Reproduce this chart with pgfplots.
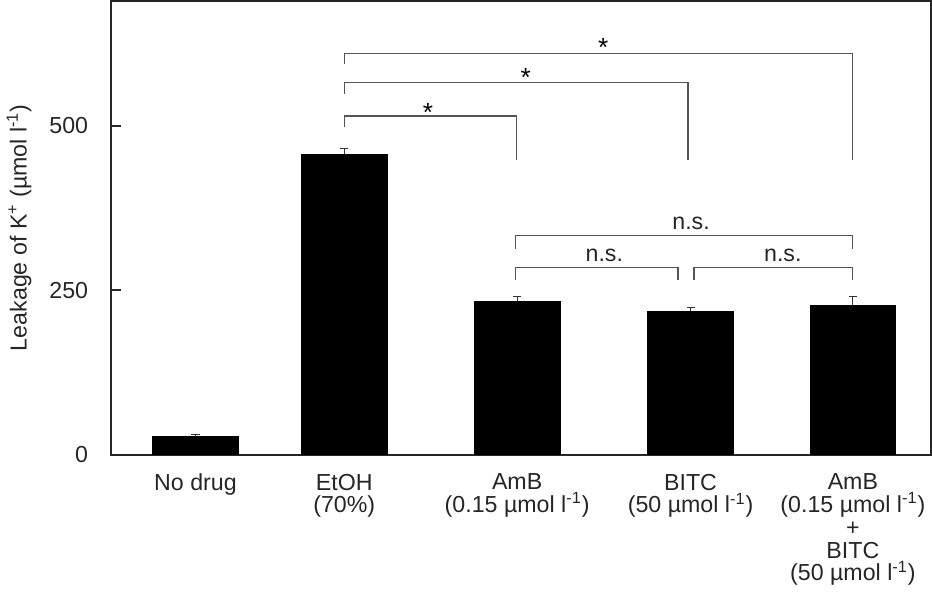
\documentclass[border=0pt]{standalone}
\usepackage{pgfplots}
\pgfplotsset{compat=1.18}
\usepackage{fontspec}
\setmainfont{Liberation Sans}
\definecolor{brk}{HTML}{555555}
\begin{document}
\begin{tikzpicture}
\begin{axis}[
  scale only axis,
  width=406.5pt, height=225pt,
  xmin=112, xmax=925, ymin=0, ymax=690,
  axis line style={line width=0.9pt, black!85},
  ytick={0,250,500},
  ytick pos=left,
  tick align=inside,
  major tick length=5pt,
  ytick style={line width=0.9pt, black!85},
  xtick={195.5,343,514.5,686.5,847.5},
  xtick style={draw=none},
  xticklabels={{No drug},{EtOH\\(70\%)},{AmB\\(0.15 µmol l\textsuperscript{-1})},{BITC\\(50 µmol l\textsuperscript{-1})},{AmB\\(0.15 µmol l\textsuperscript{-1})\\+\\BITC\\(50 µmol l\textsuperscript{-1})}},
  xticklabel style={align=center, anchor=north, yshift=-6pt, font=\fontsize{11.5}{11.3}\selectfont, text=black!85},
  yticklabel style={xshift=-8pt, font=\fontsize{11.5}{13}\selectfont, text=black!85},
  /pgf/number format/assume math mode=true,
  ylabel={Leakage of K\textsuperscript{+} (µmol l\textsuperscript{-1})},
  ylabel style={font=\fontsize{11.5}{13}\selectfont, text=black!85, yshift=2pt},
  clip=false,
]
\addplot[ybar, bar width=85, fill=black, draw=black,
  error bars/.cd, y dir=plus, y explicit,
  error bar style={line width=0.6pt, black!80},
  error mark options={rotate=90, mark size=2pt, line width=0.6pt, black!80}]
  coordinates {
  (195.5,27.6) +- (0,3.1)
  (343,457) +- (0,8)
  (514.5,233) +- (0,8)
  (686.5,218) +- (0,6)
  (847.5,227) +- (0,14)
  };
\addplot[brk, line width=0.6pt, mark=none] coordinates {(343,594) (343,610) (847,610) (847,448)};
\addplot[brk, line width=0.6pt, mark=none] coordinates {(343,549) (343,566) (684,566) (684,448)};
\addplot[brk, line width=0.6pt, mark=none] coordinates {(343,498) (343,515) (514,515) (514,448)};
\addplot[brk, line width=0.6pt, mark=none] coordinates {(513,313) (513,333) (847,333) (847,313)};
\addplot[brk, line width=0.6pt, mark=none] coordinates {(513,265) (513,284) (674,284) (674,265)};
\addplot[brk, line width=0.6pt, mark=none] coordinates {(690,265) (690,284) (847,284) (847,265)};
\node[anchor=base, font=\fontsize{13}{13}\selectfont] at (axis cs:426,506) {*};
\node[anchor=base, font=\fontsize{13}{13}\selectfont] at (axis cs:523,560) {*};
\node[anchor=base, font=\fontsize{13}{13}\selectfont] at (axis cs:600,605) {*};
\node[anchor=base, font=\fontsize{11.5}{13}\selectfont, text=black!85] at (axis cs:687,342) {n.s.};
\node[anchor=base, font=\fontsize{11.5}{13}\selectfont, text=black!85] at (axis cs:601,293) {n.s.};
\node[anchor=base, font=\fontsize{11.5}{13}\selectfont, text=black!85] at (axis cs:778,293) {n.s.};
\end{axis}
\end{tikzpicture}
\end{document}
